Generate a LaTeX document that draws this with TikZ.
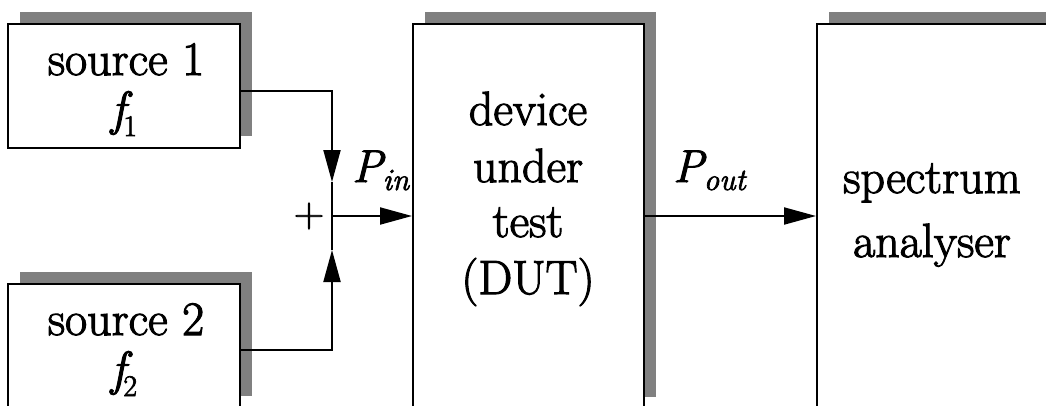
\RequirePackage{fix-cm}
\documentclass[tikz,border=0pt]{standalone}
\usepackage{fontspec}
\newfontfamily\heavy{Latin Modern Roman}[FakeBold=2.2]
\newcommand\lowsub[3]{\raisebox{-#1}{\fontsize{#2}{#2}\selectfont #3}}
\usetikzlibrary{arrows.meta,shadows}
\tikzset{
  box/.style={draw, line width=2pt, fill=white, inner sep=0pt,
    drop shadow={shadow xshift=12pt, shadow yshift=12pt, fill=gray, opacity=1}},
  conn/.style={line width=2pt},
  tip/.style={conn, -{Triangle[length=32pt,width=17pt]}},
  txt/.style={font=\heavy\fontsize{48}{58}\selectfont, inner sep=0pt, anchor=base},
  mlabel/.style={font=\heavy\fontsize{46}{56}\selectfont, inner sep=0pt, anchor=base west},
}
\begin{document}
\begin{tikzpicture}[x=1pt,y=-1pt]
\clip (0,0) rectangle (1046,405);
\fill[white] (0,0) rectangle (1046,405);
% boxes
\node[box, minimum width=232pt, minimum height=124pt] (s1) at (124,86) {};
\node[box, minimum width=232pt, minimum height=124pt] (s2) at (124,346) {};
\node[box, minimum width=231pt, minimum height=385pt] (dut) at (528.5,216.5) {};
\node[box, minimum width=246pt, minimum height=385pt] (sa) at (940,216.5) {};
% texts
\node[txt] (s1a) at (126,75) {source 1};
\node[txt] (s1b) at (124,125) {{\itshape f}\kern-2pt\lowsub{11pt}{30}{1}};
\node[txt] (s2a) at (126,335) {source 2};
\node[txt] (s2b) at (124,385) {{\itshape f}\kern-2pt\lowsub{11pt}{30}{2}};
\node[txt] (d1) at (528,125) {device};
\node[txt] (d2) at (528,182) {under};
\node[txt] (d3) at (528,237) {test};
\node[txt] (d4) at (528,294) {(DUT)};
\node[txt] (sa1) at (932,193) {spectrum};
\node[txt] (sa2) at (932,257) {analyser};
\node[mlabel] (pin) at (352,182) {{\itshape P}\lowsub{8pt}{31}{\itshape in}};
\node[mlabel] (pout) at (673,182) {{\itshape P}\lowsub{8pt}{31}{\itshape out}};
\node[font=\heavy\fontsize{42}{48}\selectfont, inner sep=0pt] (plus) at (309,216) {+};
% connectors
\coordinate (j) at (332,216);
\coordinate (a1) at (332,182);
\coordinate (a2) at (332,250);
\draw[tip] ([yshift=-5pt]s1.east) -| (a1);
\draw[conn] (a1) -- (j);
\draw[tip] ([yshift=-4pt]s2.east) -| (a2);
\draw[conn] (a2) -- (j);
\draw[tip] (j) -- (j -| dut.west);
\draw[tip] (dut.east |- j) -- (sa.west |- j);
\end{tikzpicture}
\end{document}
